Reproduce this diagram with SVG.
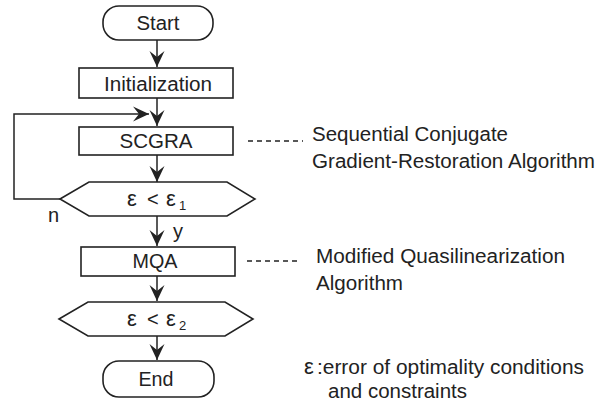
<svg xmlns="http://www.w3.org/2000/svg" width="607" height="408" viewBox="0 0 607 408">
  <style>
    .box { fill: #fff; stroke: #222; stroke-width: 1.6; }
    .wire { fill: none; stroke: #222; stroke-width: 1.5; }
    .lead { fill: none; stroke: #222; stroke-width: 1.3; stroke-dasharray: 5 4; }
    text { font-family: "Liberation Sans", Arial, Helvetica, sans-serif; font-size: 20px; fill: #222; }
    .mid { text-anchor: middle; }
    .eps { font-size: 22px; }
    .sub { font-size: 13px; }
  </style>
  <defs>
    <marker id="arrow" viewBox="-17 -9 18 18" refX="0" refY="0" markerWidth="18" markerHeight="18" markerUnits="userSpaceOnUse" orient="auto">
      <path d="M0,0 L-16,-7.5 L-10,0 L-16,7.5 Z" fill="#222"/>
    </marker>
  </defs>

  <!-- flow connectors -->
  <g id="connectors">
    <line class="wire" x1="157" y1="40" x2="157" y2="67" marker-end="url(#arrow)"/>
    <line class="wire" x1="157" y1="98" x2="157" y2="126" marker-end="url(#arrow)"/>
    <polyline class="wire" points="60,199 14,199 14,114 149,114" marker-end="url(#arrow)"/>
    <line class="wire" x1="157" y1="155" x2="157" y2="182" marker-end="url(#arrow)"/>
    <line class="wire" x1="157" y1="216" x2="157" y2="246" marker-end="url(#arrow)"/>
    <line class="wire" x1="157" y1="276" x2="157" y2="301" marker-end="url(#arrow)"/>
    <line class="wire" x1="157" y1="336" x2="157" y2="360" marker-end="url(#arrow)"/>
    <line class="lead" x1="248" y1="141" x2="303" y2="141"/>
    <line class="lead" x1="247" y1="261" x2="301" y2="261"/>
    <text x="48" y="222">n</text>
    <text x="173" y="238">y</text>
  </g>

  <g id="start">
    <rect class="box" x="103" y="6" width="110" height="34" rx="16" ry="16"/>
    <text x="158" y="30" class="mid" textLength="43" lengthAdjust="spacingAndGlyphs">Start</text>
  </g>

  <g id="init">
    <rect class="box" x="79" y="68" width="154" height="30"/>
    <text x="158" y="91" class="mid" textLength="108" lengthAdjust="spacingAndGlyphs">Initialization</text>
  </g>

  <g id="scgra">
    <rect class="box" x="79" y="127" width="154" height="28"/>
    <text x="156" y="148" class="mid" textLength="73" lengthAdjust="spacingAndGlyphs">SCGRA</text>
  </g>

  <g id="check1">
    <polygon class="box" points="60,199 89,182 227,182 255,199 227,216 89,216"/>
    <text x="127" y="206" class="eps">ε</text>
    <text x="147" y="206">&lt;</text>
    <text x="166" y="206" class="eps">ε</text>
    <text x="179" y="210" class="sub">1</text>
  </g>

  <g id="mqa">
    <rect class="box" x="81" y="247" width="154" height="29"/>
    <text x="155" y="268" class="mid" textLength="45" lengthAdjust="spacingAndGlyphs">MQA</text>
  </g>

  <g id="check2">
    <polygon class="box" points="59,319 88,302 225,302 253,319 225,336 88,336"/>
    <text x="127" y="326" class="eps">ε</text>
    <text x="147" y="326">&lt;</text>
    <text x="166" y="326" class="eps">ε</text>
    <text x="179" y="330" class="sub">2</text>
  </g>

  <g id="end">
    <rect class="box" x="103" y="361" width="111" height="36" rx="16" ry="16"/>
    <text x="156" y="386" class="mid" textLength="35" lengthAdjust="spacingAndGlyphs">End</text>
  </g>

  <!-- annotations -->
  <g id="note-scgra">
    <text x="312" y="141" textLength="196" lengthAdjust="spacingAndGlyphs">Sequential Conjugate</text>
    <text x="312" y="168" textLength="283" lengthAdjust="spacingAndGlyphs">Gradient-Restoration Algorithm</text>
  </g>
  <g id="note-mqa">
    <text x="316" y="263" textLength="249" lengthAdjust="spacingAndGlyphs">Modified Quasilinearization</text>
    <text x="316" y="290" textLength="87" lengthAdjust="spacingAndGlyphs">Algorithm</text>
  </g>
  <g id="note-eps">
    <text x="304" y="374" class="eps">ε</text>
    <text x="317" y="374" textLength="267" lengthAdjust="spacingAndGlyphs">:error of optimality conditions</text>
    <text x="328" y="398" textLength="139" lengthAdjust="spacingAndGlyphs">and constraints</text>
  </g>
</svg>
